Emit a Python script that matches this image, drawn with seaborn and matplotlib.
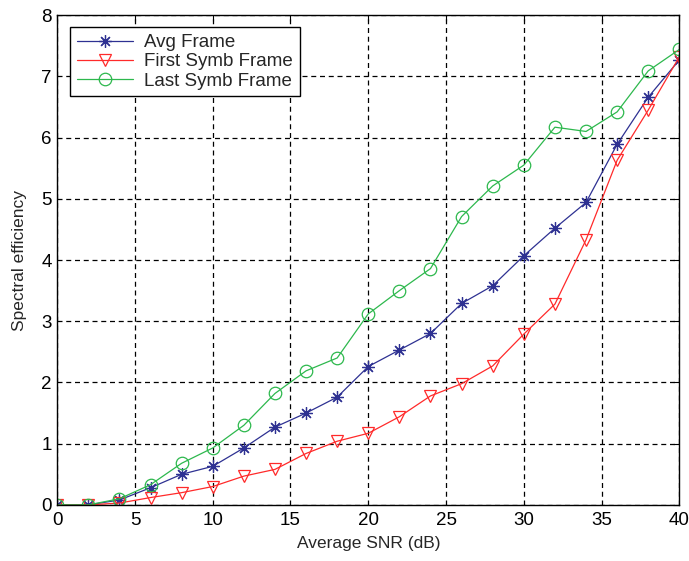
import pandas as pd
import seaborn as sns
import matplotlib.pyplot as plt

# SNR points (dB)
snr = [0, 2, 4, 6, 8, 10, 12, 14, 16, 18, 20, 22, 24, 26, 28, 30, 32, 34, 36, 38, 40]

# spectral efficiency
avg_frame = [0, 0, 0.08, 0.28, 0.5, 0.63, 0.93, 1.27, 1.5, 1.76, 2.26, 2.53, 2.8,
             3.29, 3.58, 4.07, 4.52, 4.94, 5.89, 6.66, 7.27]
first_symb = [0, 0, 0.03, 0.12, 0.2, 0.3, 0.47, 0.58, 0.84, 1.04, 1.17, 1.44, 1.78,
              1.98, 2.27, 2.79, 3.28, 4.33, 5.63, 6.45, 7.32]
last_symb = [0, 0, 0.1, 0.33, 0.68, 0.93, 1.3, 1.82, 2.19, 2.4, 3.12, 3.5, 3.86,
             4.71, 5.21, 5.55, 6.17, 6.1, 6.42, 7.09, 7.44]

labels = ['Avg Frame', 'First Symb Frame', 'Last Symb Frame']
colors = ['#2e3192', '#ff2a2a', '#2db84d']
markers = [(8, 2, 0), 'v', 'o']

sns.set_style('white')
plt.rcParams['font.family'] = ['Liberation Sans', 'DejaVu Sans']

fig = plt.figure(figsize=(6.89, 5.61), dpi=100)
ax = fig.add_axes([0.083, 0.1, 0.903, 0.873])

for y, lab, c, m in zip([avg_frame, first_symb, last_symb], labels, colors, markers):
    df = pd.DataFrame({'SNR': snr, 'SE': y})
    sns.lineplot(data=df, x='SNR', y='SE', ax=ax, label=lab, color=c,
                 marker=m, markersize=9, mfc='none', mec=c, mew=0.9,
                 linewidth=0.9)

ax.set_xlim(0, 40)
ax.set_ylim(0, 8)
ax.set_xticks(range(0, 41, 5))
ax.set_yticks(range(0, 9))
ax.tick_params(direction='in', labelsize=13.5, length=4, top=True, right=True,
               colors='black')
ax.tick_params(axis='x', pad=5)
ax.tick_params(axis='y', pad=4)
ax.grid(True, color='black', linestyle=(0, (4, 3)), linewidth=0.9)
for s in ax.spines.values():
    s.set_color('black')
    s.set_linewidth(1)

ax.set_xlabel('Average SNR (dB)', fontsize=12.5, labelpad=5)
ax.set_ylabel('Spectral efficiency', fontsize=12.5, labelpad=10)

leg = ax.legend(loc='upper left', bbox_to_anchor=(0.021, 0.975), fancybox=False,
                edgecolor='black', framealpha=1, fontsize=13.5,
                handlelength=3.0, borderaxespad=0, labelspacing=0.12,
                borderpad=0.35, handletextpad=0.6)
leg.get_frame().set_linewidth(1)

plt.savefig('out.png', dpi=100)
